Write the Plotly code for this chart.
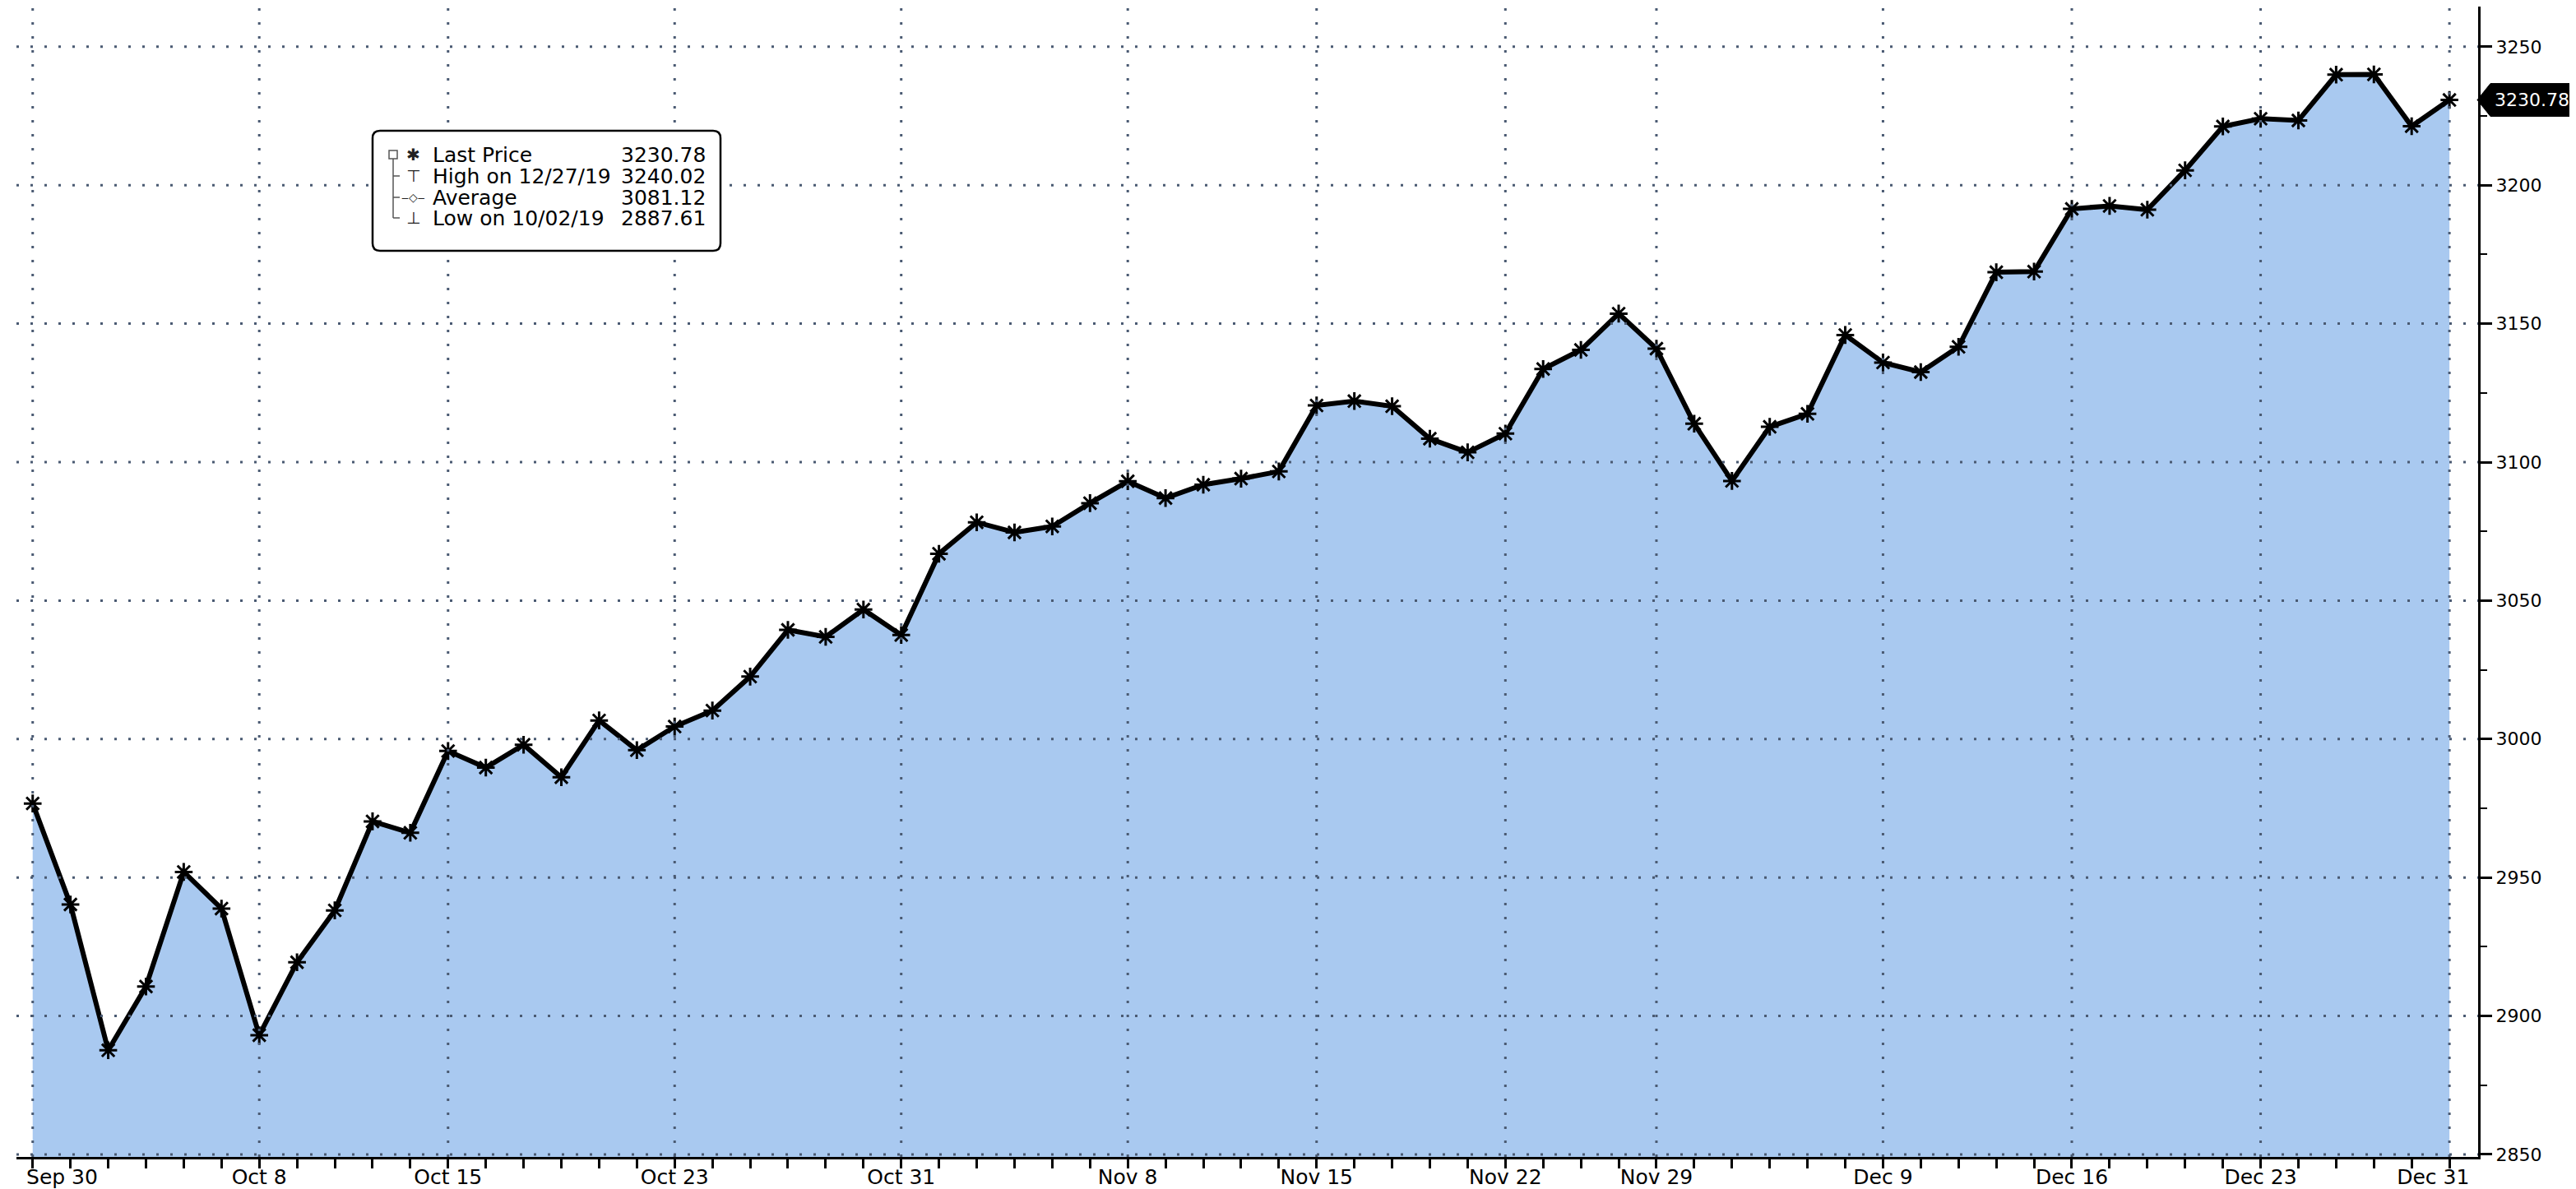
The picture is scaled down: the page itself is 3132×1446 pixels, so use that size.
import plotly.graph_objects as go

# ---------------- data ----------------
dates = [
    "2019-09-30",
    "2019-10-01", "2019-10-02", "2019-10-03", "2019-10-04", "2019-10-07", "2019-10-08",
    "2019-10-09", "2019-10-10", "2019-10-11", "2019-10-14", "2019-10-15", "2019-10-16",
    "2019-10-17", "2019-10-18", "2019-10-21", "2019-10-22", "2019-10-23", "2019-10-24",
    "2019-10-25", "2019-10-28", "2019-10-29", "2019-10-30", "2019-10-31",
    "2019-11-01", "2019-11-04", "2019-11-05", "2019-11-06", "2019-11-07", "2019-11-08",
    "2019-11-11", "2019-11-12", "2019-11-13", "2019-11-14", "2019-11-15", "2019-11-18",
    "2019-11-19", "2019-11-20", "2019-11-21", "2019-11-22", "2019-11-25", "2019-11-26",
    "2019-11-27", "2019-11-29",
    "2019-12-02", "2019-12-03", "2019-12-04", "2019-12-05", "2019-12-06", "2019-12-09",
    "2019-12-10", "2019-12-11", "2019-12-12", "2019-12-13", "2019-12-16", "2019-12-17",
    "2019-12-18", "2019-12-19", "2019-12-20", "2019-12-23", "2019-12-24", "2019-12-26",
    "2019-12-27", "2019-12-30", "2019-12-31",
]
last_price = [
    2976.74,
    2940.25, 2887.61, 2910.63, 2952.01, 2938.79, 2893.06,
    2919.40, 2938.13, 2970.27, 2966.15, 2995.68, 2989.69,
    2997.95, 2986.20, 3006.72, 2995.99, 3004.52, 3010.29,
    3022.55, 3039.42, 3036.89, 3046.77, 3037.56,
    3066.91, 3078.27, 3074.62, 3076.78, 3085.18, 3093.08,
    3087.01, 3091.84, 3094.04, 3096.63, 3120.46, 3122.03,
    3120.18, 3108.46, 3103.54, 3110.29, 3133.64, 3140.52,
    3153.63, 3140.98,
    3113.87, 3093.20, 3112.76, 3117.43, 3145.91, 3135.96,
    3132.52, 3141.63, 3168.57, 3168.80, 3191.45, 3192.52,
    3191.14, 3205.37, 3221.22, 3224.01, 3223.38, 3239.91,
    3240.02, 3221.29, 3230.78,
]
label_dates = ["2019-09-30", "2019-10-08", "2019-10-15", "2019-10-23", "2019-10-31",
               "2019-11-08", "2019-11-15", "2019-11-22", "2019-11-29", "2019-12-09",
               "2019-12-16", "2019-12-23", "2019-12-31"]
label_text = ["Sep 30", "Oct 8", "Oct 15", "Oct 23", "Oct 31", "Nov 8", "Nov 15",
              "Nov 22", "Nov 29", "Dec 9", "Dec 16", "Dec 23", "Dec 31"]
y_ticks = [2850, 2900, 2950, 3000, 3050, 3100, 3150, 3200, 3250]
legend_labels = ["Last Price", "High on 12/27/19", "Average", "Low on 10/02/19"]
legend_values = ["3230.78", "3240.02", "3081.12", "2887.61"]
last_label = "3230.78"
year_label = "2019"

# ---------------- layout geometry ----------------
FW, FH = 3132, 1446
ML, MR, MT, MB = 12, 127, 0, 47
PW, PH = FW - ML - MR, FH - MT - MB
Y0, Y1 = 2849.1, 3264.5
FONT = "DejaVu Sans, Verdana, sans-serif"
FILL = "#a9c9f0"
GRID = "#4a5a72"


def px(xp):
    return (xp - ML) / PW


def py(yp):
    return (MT + PH - yp) / PH


# tick text: labels only at chosen dates; edge labels nudged inward
tick_text = []
for d in dates:
    if d in label_dates:
        t = label_text[label_dates.index(d)]
        if d == dates[0]:
            t = "\u00a0" * 9 + t
        elif d == dates[-1]:
            t = t + "\u00a0" * 5
        tick_text.append(t)
    else:
        tick_text.append("")

fig = go.Figure()
fig.add_trace(go.Scatter(
    x=dates, y=last_price, mode="lines+markers",
    fill="tozeroy", fillcolor=FILL,
    line=dict(color="black", width=6),
    marker=dict(symbol="asterisk-open", size=18, color="black",
                line=dict(color="black", width=3)),
    showlegend=False, hoverinfo="x+y",
))

shapes = []
# dotted grid drawn above the fill
for v in y_ticks:
    shapes.append(dict(type="line", xref="paper", x0=0, x1=1, yref="y", y0=v, y1=v,
                       line=dict(color=GRID, width=3, dash="3px,14px"), layer="above"))
for d in label_dates:
    shapes.append(dict(type="line", xref="x", x0=d, x1=d, yref="paper", y0=0, y1=1,
                       line=dict(color=GRID, width=3, dash="3px,14px"), layer="above"))

# last price tag
v = last_price[-1]
hh = 20 / (PH / (Y1 - Y0))
xt, xl, xr = px(3004), px(3020), px(3124)
shapes.append(dict(type="path", xref="paper", yref="y",
                   path=f"M {xt},{v} L {xl},{v + hh} L {xr},{v + hh} L {xr},{v - hh} L {xl},{v - hh} Z",
                   fillcolor="black", line=dict(color="black", width=1), layer="above"))

# legend box (rounded)
bl, br, bt, bb, r = 445, 868, 151, 297, 9
rx, ry = r / PW, r / PH
L_, R_, T_, B_ = px(bl), px(br), py(bt), py(bb)
shapes.append(dict(
    type="path", xref="paper", yref="paper",
    path=(f"M {L_ + rx},{T_} L {R_ - rx},{T_} Q {R_},{T_} {R_},{T_ - ry} "
          f"L {R_},{B_ + ry} Q {R_},{B_} {R_ - rx},{B_} L {L_ + rx},{B_} "
          f"Q {L_},{B_} {L_},{B_ + ry} L {L_},{T_ - ry} Q {L_},{T_} {L_ + rx},{T_} Z"),
    fillcolor="white", line=dict(color="black", width=2.5), layer="above"))

row_y = [180, 206, 232, 257]
# legend tree
shapes.append(dict(type="rect", xref="paper", yref="paper",
                   x0=px(465), x1=px(475), y0=py(185), y1=py(175),
                   line=dict(color="#555", width=1.5), fillcolor="white", layer="above"))
shapes.append(dict(type="line", xref="paper", yref="paper",
                   x0=px(470), x1=px(470), y0=py(185), y1=py(row_y[3]),
                   line=dict(color="#555", width=1.5), layer="above"))
for yy in row_y[1:]:
    shapes.append(dict(type="line", xref="paper", yref="paper",
                       x0=px(470), x1=px(478), y0=py(yy), y1=py(yy),
                       line=dict(color="#555", width=1.5), layer="above"))

annotations = []
icons = ["\u2731", "\u22a4", "\u2012\u25c7\u2012", "\u22a5"]
icon_sizes = [20, 20, 14, 20]
for i in range(4):
    annotations.append(dict(xref="paper", yref="paper", x=px(494), y=py(row_y[i]),
                            text=icons[i], showarrow=False, xanchor="center", yanchor="middle",
                            font=dict(family=FONT, size=icon_sizes[i], color="#222")))
    annotations.append(dict(xref="paper", yref="paper", x=px(516), y=py(row_y[i]),
                            text=legend_labels[i], showarrow=False, xanchor="left", yanchor="middle",
                            font=dict(family=FONT, size=25, color="black")))
    annotations.append(dict(xref="paper", yref="paper", x=px(852), y=py(row_y[i]),
                            text=legend_values[i], showarrow=False, xanchor="right", yanchor="middle",
                            font=dict(family=FONT, size=25, color="black")))

annotations.append(dict(xref="paper", yref="y", x=px(3071), y=v, text=last_label,
                        showarrow=False, xanchor="center", yanchor="middle",
                        font=dict(family=FONT, size=22, color="white")))
annotations.append(dict(xref="paper", yref="paper", x=px(1505), y=py(1454), text=year_label,
                        showarrow=False, xanchor="center", yanchor="middle",
                        font=dict(family=FONT, size=24, color="black")))

fig.update_layout(
    width=FW, height=FH,
    margin=dict(l=ML, r=MR, t=MT, b=MB, pad=0, autoexpand=False),
    paper_bgcolor="white", plot_bgcolor="white",
    shapes=shapes, annotations=annotations,
    font=dict(family=FONT, color="black"),
    xaxis=dict(
        type="category", categoryorder="array", categoryarray=dates,
        range=[-0.43, len(dates) - 1 + 0.76], automargin=False,
        tickmode="array", tickvals=dates, ticktext=tick_text,
        ticks="outside", ticklen=11, tickwidth=2.5, tickcolor="black",
        ticklabelstandoff=-11,
        showline=True, linecolor="black", linewidth=3,
        showgrid=False, zeroline=False,
        tickfont=dict(family=FONT, size=25, color="black"),
        tickangle=0,
    ),
    yaxis=dict(
        side="right", range=[Y0, Y1], automargin=False,
        tickmode="array", tickvals=y_ticks,
        ticks="outside", ticklen=14, tickwidth=3, tickcolor="black",
        minor=dict(dtick=25, tick0=2850, ticks="outside", ticklen=8, tickwidth=2,
                   tickcolor="black", showgrid=False),
        showline=True, linecolor="black", linewidth=3,
        showgrid=False, zeroline=False,
        tickfont=dict(family=FONT, size=22, color="black"),
    ),
)

fig.write_html("out.html")
